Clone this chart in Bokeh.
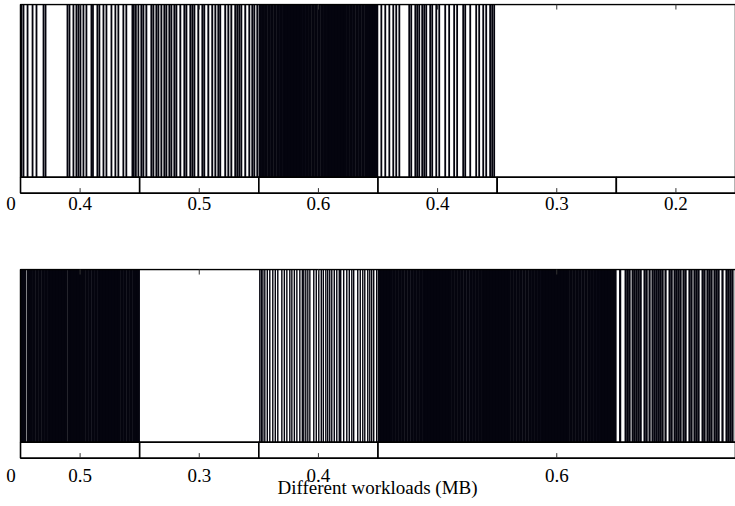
from bokeh.plotting import figure
from bokeh.models import Range1d, FixedTicker, ColumnDataSource
from bokeh.layouts import column
from bokeh.embed import file_html
from bokeh.resources import INLINE

# ---------------- data ----------------
# top panel: workload (MB) of each consecutive segment
top_workloads = ["0.4", "0.5", "0.6", "0.4", "0.3", "0.2"]
# event positions inside each segment (fraction of the segment)
top_events_0 = [0.008, 0.025, 0.059, 0.101, 0.134, 0.193, 0.210, 0.394, 0.411, 0.444,
                0.469, 0.486, 0.503, 0.528, 0.553, 0.595, 0.608, 0.645, 0.662, 0.696,
                0.721, 0.763, 0.796, 0.821, 0.863, 0.888, 0.939, 0.951, 0.968, 0.989]
top_events_1 = [0.014, 0.031, 0.056, 0.098, 0.115, 0.140, 0.157, 0.182, 0.207, 0.224,
                0.249, 0.266, 0.291, 0.308, 0.341, 0.375, 0.392, 0.425, 0.442, 0.459,
                0.492, 0.526, 0.542, 0.576, 0.609, 0.635, 0.660, 0.676, 0.718, 0.744,
                0.769, 0.802, 0.819, 0.836, 0.853, 0.886, 0.920, 0.945, 0.962, 0.987]
top_events_2 = [0.012, 0.037, 0.061, 0.086, 0.110, 0.135, 0.160, 0.184, 0.209, 0.233,
                0.258, 0.283, 0.307, 0.332, 0.356, 0.381, 0.406, 0.430, 0.455, 0.479,
                0.504, 0.529, 0.553, 0.578, 0.602, 0.627, 0.652, 0.676, 0.701, 0.725,
                0.750, 0.775, 0.799, 0.824, 0.848, 0.873, 0.898, 0.922, 0.947, 0.971,
                0.988]
top_events_3 = [0.028, 0.061, 0.095, 0.128, 0.153, 0.179, 0.262, 0.279, 0.313, 0.329,
                0.346, 0.371, 0.388, 0.405, 0.438, 0.455, 0.489, 0.514, 0.564, 0.597,
                0.639, 0.664, 0.715, 0.732, 0.774, 0.824, 0.849, 0.883, 0.908, 0.941,
                0.958, 0.975]
top_events_4 = []
top_events_5 = []

# bottom panel
bottom_workloads = ["0.5", "0.3", "0.4", "0.6"]
bottom_lengths = [1, 1, 1, 3]
bottom_events_0 = [0.012, 0.034, 0.066, 0.090, 0.114, 0.139, 0.163, 0.188, 0.212, 0.237,
                   0.261, 0.286, 0.310, 0.335, 0.359, 0.383, 0.412, 0.436, 0.461, 0.485,
                   0.510, 0.534, 0.559, 0.583, 0.608, 0.632, 0.657, 0.681, 0.706, 0.730,
                   0.755, 0.779, 0.804, 0.828, 0.853, 0.877, 0.902, 0.926, 0.951, 0.975,
                   0.988]
bottom_events_1 = []
bottom_events_2 = [0.008, 0.021, 0.034, 0.050, 0.071, 0.092, 0.117, 0.138, 0.159, 0.193,
                   0.214, 0.235, 0.260, 0.277, 0.298, 0.319, 0.344, 0.365, 0.377, 0.394,
                   0.411, 0.428, 0.461, 0.482, 0.503, 0.524, 0.541, 0.562, 0.578, 0.595,
                   0.612, 0.633, 0.654, 0.675, 0.687, 0.712, 0.738, 0.759, 0.780, 0.796,
                   0.830, 0.851, 0.872, 0.889, 0.914, 0.931, 0.947, 0.964, 0.989]
# 0.6 MB workload: dense phase then sparser phase
bottom_events_3a = [0.012, 0.037, 0.062, 0.087, 0.111, 0.136, 0.161, 0.186, 0.210, 0.235,
                    0.260, 0.285, 0.309, 0.334, 0.359, 0.384, 0.408, 0.433, 0.458, 0.483,
                    0.507, 0.532, 0.557, 0.582, 0.606, 0.631, 0.656, 0.681, 0.705, 0.730,
                    0.755, 0.780, 0.804, 0.829, 0.854, 0.879, 0.903, 0.928, 0.953, 0.978,
                    1.002, 1.027, 1.052, 1.077, 1.101, 1.126, 1.151, 1.176, 1.200, 1.225,
                    1.250, 1.275, 1.299, 1.324, 1.349, 1.374, 1.398, 1.423, 1.448, 1.473,
                    1.497, 1.522, 1.547, 1.572, 1.596, 1.621, 1.646, 1.671, 1.695, 1.720,
                    1.745, 1.770, 1.794, 1.819, 1.844, 1.869, 1.893, 1.918, 1.943, 1.968,
                    1.988]
bottom_events_3b = [2.032, 2.078, 2.095, 2.111, 2.137, 2.153, 2.170, 2.187, 2.204, 2.237,
                    2.254, 2.279, 2.304, 2.321, 2.338, 2.355, 2.371, 2.388, 2.413, 2.447,
                    2.464, 2.489, 2.505, 2.522, 2.539, 2.564, 2.581, 2.614, 2.631, 2.656,
                    2.673, 2.690, 2.724, 2.740, 2.765, 2.782, 2.799, 2.824, 2.841, 2.858,
                    2.891, 2.925, 2.941, 2.958, 2.975]

# origin tick label shown left of each strip
origin_label = "0"
x_title = "Different workloads (MB)"

# ---------------- style ----------------
FONT = "Liberation Serif"
FS = "19px"
BAR = "#04040e"
EDGE = "#000000"
TICK = "#333333"
X_START = -0.168      # leaves a 20px margin left of the boxes
ORIGIN_POS = -0.08    # where the "0" label sits
STRIP_BOTTOM = -0.092
TICK_LEN = 0.029


def base_fig(height, top, bottom):
    p = figure(width=735, height=height, output_backend="svg", toolbar_location=None,
               x_range=Range1d(X_START, 6), y_range=Range1d(-0.1, 1.006),
               min_border_left=0, min_border_right=0,
               min_border_top=top, min_border_bottom=bottom)
    p.outline_line_color = None
    p.xgrid.visible = False
    p.ygrid.visible = False
    p.yaxis.visible = False
    p.background_fill_color = "white"
    p.border_fill_color = "white"
    return p


def style_axes(p, centers, labels, standoff):
    ax = p.below[0]
    ticks = [ORIGIN_POS] + list(centers)
    ax.ticker = FixedTicker(ticks=ticks)
    ax.major_label_overrides = {c: l for c, l in zip(ticks, [origin_label] + list(labels))}
    ax.major_tick_line_color = None
    ax.major_tick_in = 0
    ax.major_tick_out = 0
    ax.axis_line_color = None
    ax.major_label_standoff = standoff
    ax.major_label_text_font = FONT
    ax.major_label_text_font_size = FS
    ax.major_label_text_color = "black"
    n = len(centers)
    # inward tick marks on the bottom and on the top edge of each box
    p.segment(x0=centers, x1=centers, y0=[STRIP_BOTTOM] * n,
              y1=[STRIP_BOTTOM + TICK_LEN] * n, line_color=TICK, line_width=1)
    p.segment(x0=centers, x1=centers, y0=[1.0 - TICK_LEN] * n,
              y1=[1.0] * n, line_color=TICK, line_width=1)
    return ax


def draw_box(p, right):
    p.quad(left=[0], right=[right], bottom=[0.0], top=[1.0],
           fill_color=None, line_color=EDGE, line_width=1.5)


def draw_events(p, offset, fracs, width):
    if not fracs:
        return
    xs = [offset + f for f in fracs]
    src = ColumnDataSource(dict(x=xs, y0=[0.0] * len(xs), y1=[1.0] * len(xs)))
    p.segment(x0="x", y0="y0", x1="x", y1="y1", source=src,
              line_width=width, line_color=BAR)


def draw_strip(p, lefts, rights):
    p.quad(left=lefts, right=rights, bottom=[STRIP_BOTTOM] * len(lefts), top=[0.0] * len(lefts),
           fill_color="white", line_color=EDGE, line_width=1.6)


# ---------------- top panel ----------------
p1 = base_fig(233, 3, 39)
top_lists = [top_events_0, top_events_1, top_events_2, top_events_3, top_events_4, top_events_5]
top_widths = [1.8, 1.9, 3.4, 1.8, 1.8, 1.8]
for i, (ev, w) in enumerate(zip(top_lists, top_widths)):
    draw_events(p1, i, ev, w)
n_top = len(top_workloads)
draw_box(p1, n_top)
draw_strip(p1, list(range(n_top)), list(range(1, n_top + 1)))
style_axes(p1, [i + 0.5 for i in range(n_top)], top_workloads, 2)

# ---------------- bottom panel ----------------
p2 = base_fig(273, 35, 47)
starts = [0]
for L in bottom_lengths[:-1]:
    starts.append(starts[-1] + L)
draw_events(p2, starts[0], bottom_events_0, 3.4)
draw_events(p2, starts[1], bottom_events_1, 1.8)
draw_events(p2, starts[2], bottom_events_2, 1.4)
draw_events(p2, starts[3], bottom_events_3a, 3.4)
draw_events(p2, starts[3], bottom_events_3b, 2.2)
total = sum(bottom_lengths)
draw_box(p2, total)
draw_strip(p2, starts, [s + L for s, L in zip(starts, bottom_lengths)])
ax2 = style_axes(p2, [s + L / 2 for s, L in zip(starts, bottom_lengths)], bottom_workloads, 9)
# the frame includes the 20px left margin; non-breaking spaces re-centre
# the title under the boxes themselves
ax2.axis_label = "\u00a0" * 4 + x_title
ax2.axis_label_text_font = FONT
ax2.axis_label_text_font_size = FS
ax2.axis_label_text_font_style = "normal"
ax2.axis_label_text_color = "black"
ax2.axis_label_standoff = -8

layout = column(p1, p2, spacing=0)
open("out.html", "w").write(file_html(layout, INLINE))
